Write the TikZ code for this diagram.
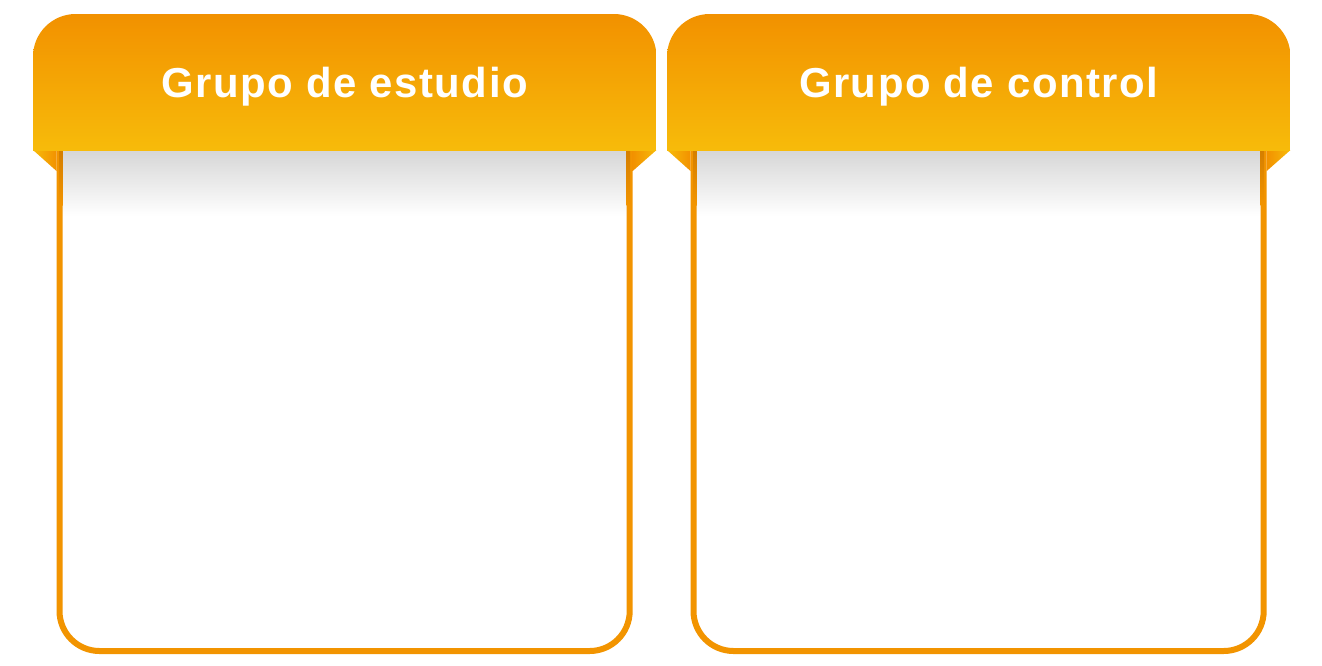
\documentclass[tikz,border=0pt]{standalone}
\usepackage{fontspec}
\setmainfont{Liberation Sans}[LetterSpace=3.6]
\definecolor{hdtop}{HTML}{F29100}
\definecolor{hdbot}{HTML}{F7BB0A}
\definecolor{brd}{HTML}{F29400}
\definecolor{brddark}{HTML}{D47E00}
\definecolor{shad}{HTML}{D6D6D6}
\tikzset{
  x=0.75pt, y=-0.75pt,
  title/.style={text=white, font=\fontsize{31.4pt}{34pt}\selectfont\bfseries, inner sep=0pt, anchor=base},
  border/.style={draw=brd, line width=4.5pt, rounded corners=30pt},
}
\newcommand{\panel}[3]{% #1 = x offset, #2 = name, #3 = text
  \begin{scope}[xshift=#1*0.75pt]
    % body
    \fill[white] (59.5,150) -- (59.5,651) -- (629.7,651) -- (629.7,150) -- cycle;
    \shade[top color=shad, bottom color=white] (62,150) rectangle (627.2,216);
    \draw[border] (59.5,148) -- (59.5,651) -- (629.7,651) -- (629.7,148);
    \shade[top color=brddark, bottom color=brd] (59,150) rectangle (62.7,205);
    \shade[top color=brddark, bottom color=brd] (626.7,150) rectangle (630.2,205);
    % folds
    \shade[left color=hdbot, right color=hdtop] (33,150) -- (56.5,150) -- (56.5,171) -- cycle;
    \shade[right color=hdbot, left color=hdtop] (656.5,150) -- (632.7,150) -- (632.7,171) -- cycle;
    % header
    \begin{scope}
      \clip[rounded corners=32pt] (33,14) rectangle (656.5,220);
      \shade[top color=hdtop, bottom color=hdbot] (33,14) rectangle (656.5,150);
    \end{scope}
    \node[title] (#2) at (344.7,97) {#3};
  \end{scope}
}
\begin{document}
\begin{tikzpicture}
\useasboundingbox (0,0) rectangle (1322,665);
\panel{0}{estudio}{Grupo de estudio}
\panel{634}{control}{Grupo de control}
\end{tikzpicture}
\end{document}
